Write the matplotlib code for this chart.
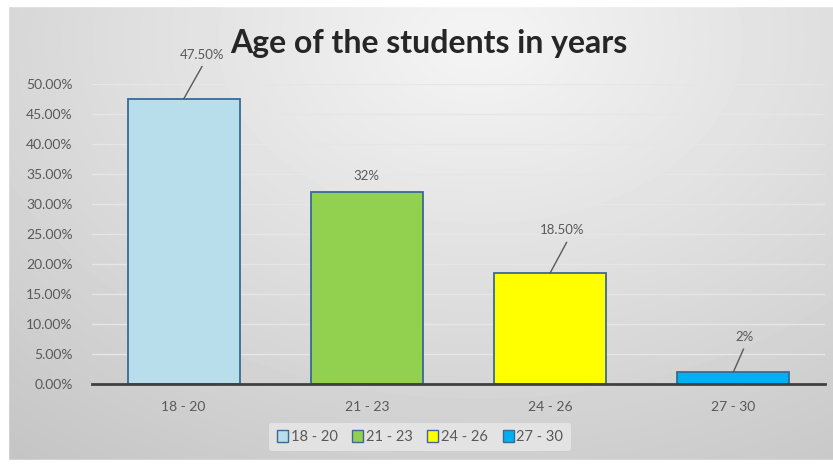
import matplotlib.pyplot as plt
import numpy as np
from matplotlib.patches import Patch

plt.rcParams['font.family'] = ['Lato', 'DejaVu Sans']

categories = ['18 - 20', '21 - 23', '24 - 26', '27 - 30']
values = [47.5, 32, 18.5, 2]
value_labels = ['47.50%', '32%', '18.50%', '2%']
colors = ['#b7deea', '#92d050', '#ffff00', '#00b0f0']
yticks = [0, 5, 10, 15, 20, 25, 30, 35, 40, 45, 50]

W, H = 833, 466
fig = plt.figure(figsize=(W / 100, H / 100), dpi=100)

# radial grey background of the chart area
bg = fig.add_axes([0, 0, 1, 1])
yy, xx = np.mgrid[0:H, 0:W]
r = np.sqrt(((xx - 480) / 600) ** 2 + ((yy - 40) / 420) ** 2)
shade = np.clip(0.96 - 0.15 * r, 0.72, 1.0)
bg.imshow(shade, cmap='gray', vmin=0, vmax=1, extent=[0, W, H, 0], aspect='auto')
bg.add_patch(plt.Rectangle((0, 0), W, 6, color='white'))
bg.add_patch(plt.Rectangle((0, 460), W, 6, color='white'))
bg.add_patch(plt.Rectangle((0, 0), 8, H, color='white'))
bg.set_xlim(0, W)
bg.set_ylim(H, 0)
bg.axis('off')

ax = fig.add_axes([92 / W, (H - 384) / H, 733 / W, 300 / H])
ax.patch.set_alpha(0)
x = np.arange(len(categories))
bars = ax.bar(x, values, width=0.61, color=colors, edgecolor='#3a6a94', linewidth=1.3, zorder=3)
ax.set_xlim(-0.5, 3.5)
ax.set_ylim(0, 50)
ax.set_yticks(yticks)
ax.set_yticklabels(['%.2f%%' % t for t in yticks])
ax.set_xticks(x)
ax.set_xticklabels(categories)
ax.tick_params(axis='both', length=0, labelsize=10, colors='#595959')
ax.tick_params(axis='x', pad=12)
ax.tick_params(axis='y', pad=14)
ax.grid(axis='y', color='#e6e6e6', linewidth=1, zorder=0)
for s in ['top', 'right', 'left']:
    ax.spines[s].set_visible(False)
ax.spines['bottom'].set_color('#404040')
ax.spines['bottom'].set_linewidth(2)
ax.spines['bottom'].set_zorder(4)

# data labels, with leader lines for the shifted ones
label_pos = [(0.1, 53.8), (0, 33.7), (0.065, 24.6), (0.06, 6.8)]
leader_end = [(0.1, 52.9), None, (0.09, 23.6), (0.055, 5.8)]
for i, v in enumerate(values):
    dx, ly = label_pos[i]
    ax.text(x[i] + dx, ly, value_labels[i], ha='center', va='bottom',
            fontsize=9.5, color='#595959', clip_on=False)
    if leader_end[i] is not None:
        ex, ey = leader_end[i]
        ax.plot([x[i], x[i] + ex], [v, ey], color='#595959',
                linewidth=1, clip_on=False, zorder=4)

fig.text(429 / W, 1 - 43 / H, 'Age of the students in years', ha='center', va='center',
         fontsize=23, fontweight='bold', color='#262626')

handles = [Patch(facecolor=c, edgecolor='#3a6a94', label=l) for c, l in zip(colors, categories)]
leg = fig.legend(handles=handles, loc='center', bbox_to_anchor=(420 / W, 1 - 437 / H), ncol=4,
                 frameon=True, fontsize=10.5, handlelength=0.75, handleheight=0.8,
                 handletextpad=0.2, columnspacing=1.0, borderpad=0.5)
leg.get_frame().set_facecolor('#e8e8e8')
leg.get_frame().set_edgecolor('none')
leg.get_frame().set_alpha(0.8)
for t in leg.get_texts():
    t.set_color('#595959')

fig.savefig('out.png', dpi=100)
